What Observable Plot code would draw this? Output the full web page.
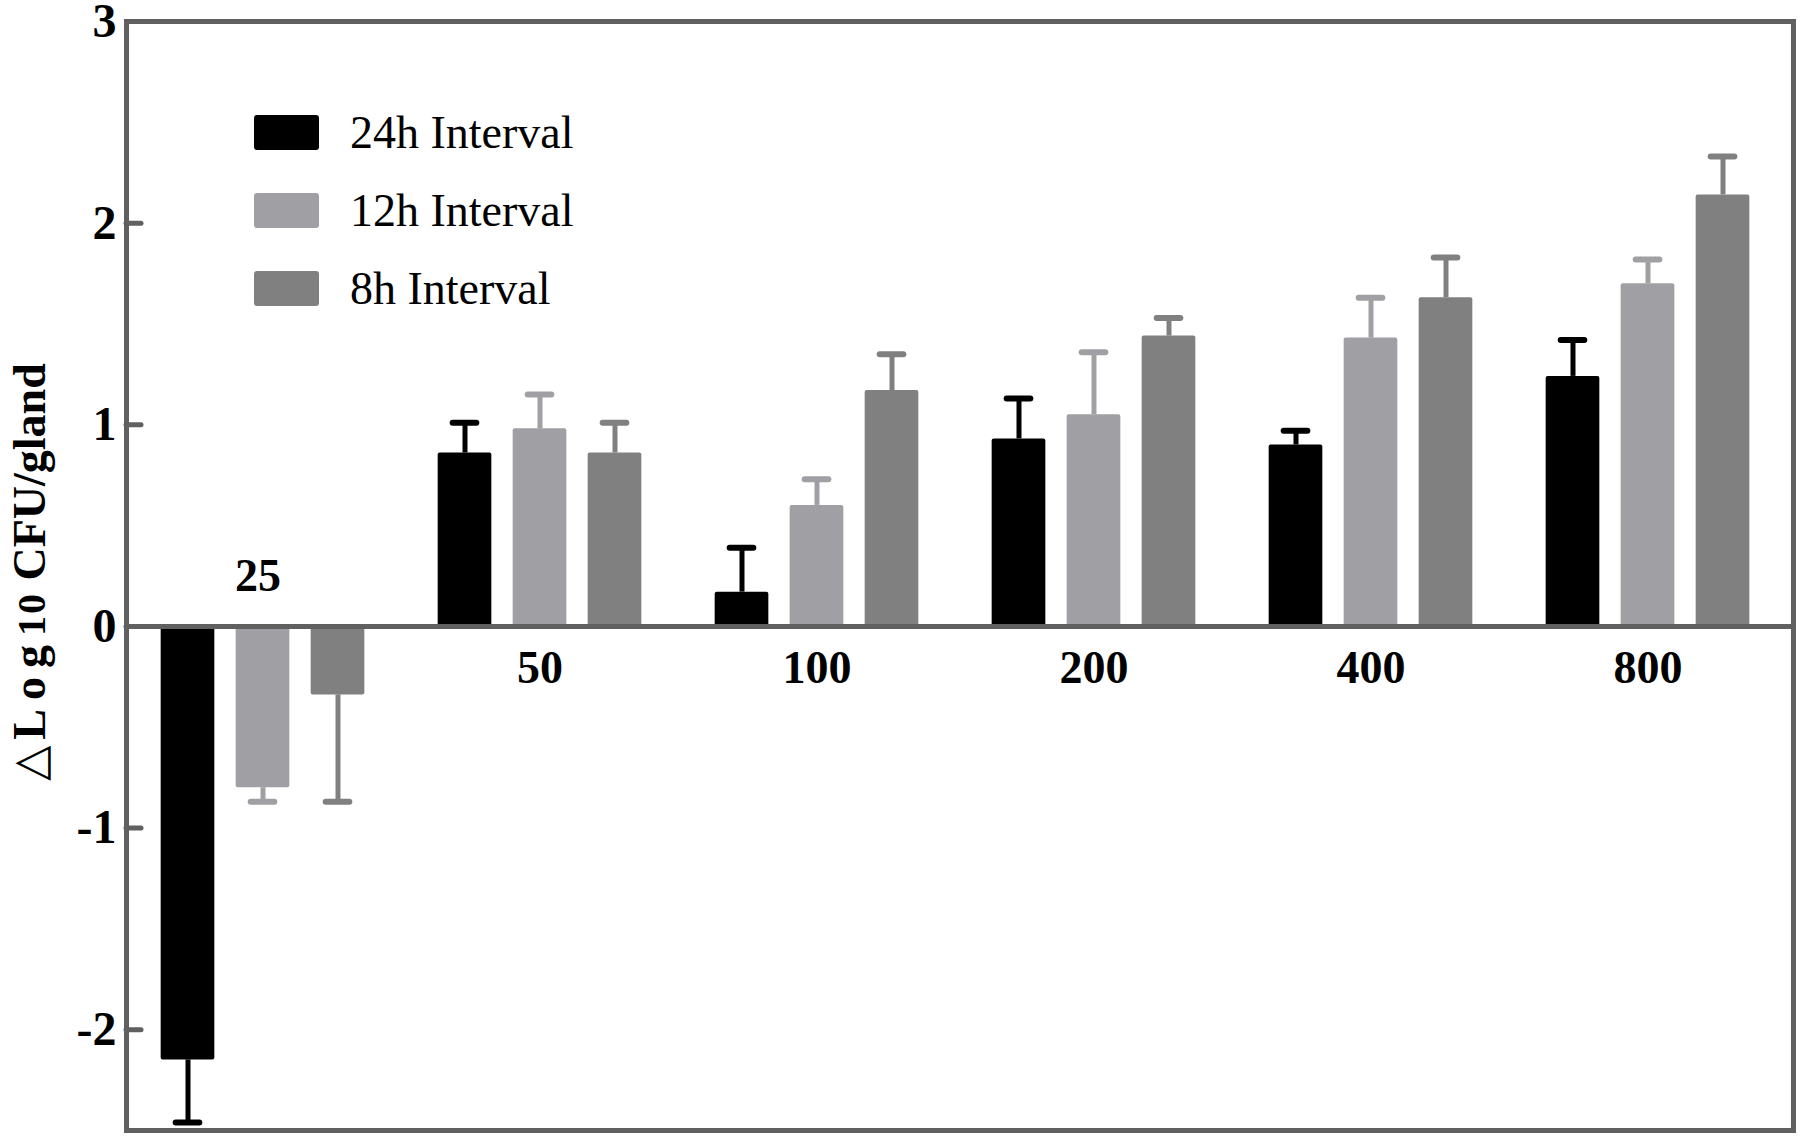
<!DOCTYPE html>
<html>
<head>
<meta charset="utf-8">
<script src="https://cdn.jsdelivr.net/npm/d3@7"></script>
<script src="https://cdn.jsdelivr.net/npm/@observablehq/plot@0.6"></script>
<style>
  html, body { margin: 0; padding: 0; background: #fff; }
  #wrap { position: relative; width: 1800px; height: 1138px; }
  #legend { position: absolute; left: 254px; top: 93px; font-family: "Liberation Serif", "Times New Roman", serif; font-size: 46px; color: #000; }
  #legend .item { display: flex; align-items: center; height: 78px; }
  #legend .sw { width: 65px; height: 35px; border-radius: 3px; margin-right: 31px; }
</style>
</head>
<body>
<div id="wrap"></div>
<script>
// ---- data ----
const doses = ["25", "50", "100", "200", "400", "800"];
const seriesNames = ["24h Interval", "12h Interval", "8h Interval"];
const seriesColors = ["#000000", "#a0a0a4", "#808080"];
const mean24 = [-2.15, 0.86, 0.17, 0.93, 0.90, 1.24];
const err24  = [0.31, 0.15, 0.22, 0.20, 0.07, 0.18];
const mean12 = [-0.80, 0.98, 0.60, 1.05, 1.43, 1.70];
const err12  = [0.07, 0.17, 0.13, 0.31, 0.20, 0.12];
const mean8  = [-0.34, 0.86, 1.17, 1.44, 1.63, 2.14];
const err8   = [0.53, 0.15, 0.18, 0.09, 0.20, 0.19];
const yTicks = [-2, -1, 0, 1, 2, 3];
const yLabelMain = "Log";
const yLabelSub = "10";
const yLabelRest = " CFU/gland";

// ---- table ----
const means = [mean24, mean12, mean8];
const errs = [err24, err12, err8];
const rows = doses.flatMap((d, i) => seriesNames.map((s, j) => ({
  dose: d, series: s, mean: means[j][i], err: errs[j][i]
})));
const endOf = r => r.mean + Math.sign(r.mean) * r.err;
const above = doses.filter((d, i) => means.every(m => m[i] < 0));
const below = doses.filter(d => !above.includes(d));

// ---- layout (styles) ----
const W = 1800, H = 1138;
const mL = 126, mR = 7, mT = 21, mB = 8;
const xRange = [123, 1787];
const step = (xRange[1] - xRange[0]) / doses.length;
const half = step / 2;
const barW = 54, gap = 75, capHalf = 12;
const axisColor = "#606060";
const serif = '"Liberation Serif", "Times New Roman", serif';

const seriesMarks = seriesNames.flatMap((s, j) => {
  const off = (j - 1) * gap;
  const data = rows.filter(r => r.series === s);
  const c = seriesColors[j];
  return [
    Plot.barY(data, {x: "dose", y: "mean", fill: c, rx: 2,
      insetLeft: half + off - barW / 2, insetRight: half - off - barW / 2}),
    Plot.ruleX(data, {x: "dose", y1: "mean", y2: endOf, stroke: c, strokeWidth: 5, dx: off}),
    Plot.tickY(data, {x: "dose", y: endOf, stroke: c, strokeWidth: 6, strokeLinecap: "round",
      insetLeft: half + off - capHalf, insetRight: half - off - capHalf})
  ];
});

const chart = Plot.plot({
  width: W, height: H,
  marginLeft: mL, marginRight: mR, marginTop: mT, marginBottom: mB,
  style: {fontFamily: serif, background: "#fff"},
  x: {type: "band", domain: doses, range: xRange, padding: 0, axis: null},
  y: {domain: [-2.5, 3], axis: null},
  marks: [
    ...seriesMarks,
    Plot.ruleY([0], {stroke: axisColor, strokeWidth: 5}),
    Plot.frame({stroke: axisColor, strokeWidth: 5}),
    Plot.tickY(yTicks.filter(t => t > -2.5 && t < 3), {y: d => d, stroke: axisColor, strokeWidth: 5,
      strokeLinecap: "round", insetRight: (W - mL - mR) - 15}),
    Plot.axisY(yTicks, {anchor: "left", tickSize: 0, tickPadding: 10, fontSize: 48, fontWeight: "bold",
      fill: "#000", tickFormat: d => String(d), label: null}),
    Plot.text(above, {x: d => d, y: 0, text: d => d, dy: -50, fontSize: 46, fontWeight: "bold",
      fill: "#000", lineAnchor: "middle", dx: -5}),
    Plot.text(below, {x: d => d, y: 0, text: d => d, dy: 42, fontSize: 46, fontWeight: "bold",
      fill: "#000", lineAnchor: "middle"})
  ]
});

// y-axis title with subscript
const svg = d3.select(chart);
const t = svg.append("text")
  .attr("transform", "translate(45,572) rotate(-90)")
  .attr("text-anchor", "middle")
  .attr("font-family", serif)
  .attr("font-size", 46)
  .attr("font-weight", "bold")
  .attr("fill", "#000");
t.append("tspan").attr("font-weight", "normal").text("\u25B3");
t.append("tspan").attr("dx", 6).attr("letter-spacing", 9).text(yLabelMain);
t.append("tspan").attr("font-size", 40).attr("letter-spacing", 2).text(yLabelSub);
t.append("tspan").text(yLabelRest);

const wrap = document.getElementById("wrap");
wrap.appendChild(chart);

// legend
const legend = document.createElement("div");
legend.id = "legend";
seriesNames.forEach((s, j) => {
  const item = document.createElement("div");
  item.className = "item";
  const sw = document.createElement("span");
  sw.className = "sw";
  sw.style.background = seriesColors[j];
  const lab = document.createElement("span");
  lab.textContent = s;
  item.appendChild(sw);
  item.appendChild(lab);
  legend.appendChild(item);
});
wrap.appendChild(legend);
</script>
</body>
</html>
